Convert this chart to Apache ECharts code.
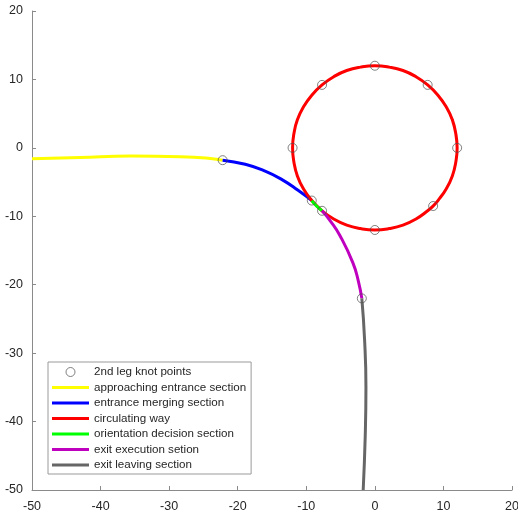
<!DOCTYPE html>
<html>
<head>
<meta charset="utf-8">
<script src="https://cdn.jsdelivr.net/npm/echarts@6/dist/echarts.min.js"></script>
<style>
  html, body { margin: 0; padding: 0; background: #fff; }
  #chart { width: 518px; height: 514px; }
</style>
</head>
<body>
<div id="chart"></div>
<script>
// Roundabout path of the second leg: each section as [x, y] points
const knotPoints = [
  [0, 12], [7.7, 9.2], [12, 0], [8.5, -8.5], [0, -12],
  [-7.7, -9.2], [-9.2, -7.7], [-12, 0], [-7.7, 9.2],
  [-22.2, -1.8], [-1.9, -22]
];
const approachingEntrance = [
  [-50, -1.6], [-43, -1.4], [-35.6, -1.2], [-28.3, -1.3], [-24, -1.55], [-22.2, -1.8]
];
const entranceMerging = [
  [-22.2, -1.8], [-18.9, -2.4], [-16.0, -3.4], [-13.6, -4.6], [-11.2, -6.2], [-9.2, -7.7]
];
const circulatingWay = [
  [12, 0], [11.8, 2.1], [11.3, 4.1], [10.4, 6], [9.2, 7.7], [7.7, 9.2], [6, 10.4],
  [4.1, 11.3], [2.1, 11.8], [0, 12], [-2.1, 11.8], [-4.1, 11.3], [-6, 10.4],
  [-7.7, 9.2], [-9.2, 7.7], [-10.4, 6], [-11.3, 4.1], [-11.8, 2.1], [-12, 0],
  [-11.8, -2.1], [-11.3, -4.1], [-10.4, -6], [-9.2, -7.7], [-7.7, -9.2], [-6, -10.4],
  [-4.1, -11.3], [-2.1, -11.8], [0, -12], [2.1, -11.8], [4.1, -11.3], [6, -10.4],
  [7.7, -9.2], [8.5, -8.5], [9.2, -7.7], [10.4, -6], [11.3, -4.1], [11.8, -2.1],
  [12, 0], [11.8, 2.1], [11.3, 4.1]
];
const orientationDecision = [
  [-9.2, -7.7], [-8.5, -8.5], [-7.7, -9.2]
];
const exitExecution = [
  [-7.7, -9.2], [-6.4, -10.8], [-5.1, -12.8], [-3.2, -16.8], [-2.4, -19.5], [-1.9, -22]
];
const exitLeaving = [
  [-1.9, -22], [-1.5, -28], [-1.3, -35], [-1.4, -42], [-1.7, -50]
];

const xTicks = { min: -50, max: 20, interval: 10 };
const yTicks = { min: -50, max: 20, interval: 10 };

const names = [
  '2nd leg knot points',
  'approaching entrance section',
  'entrance merging section',
  'circulating way',
  'orientation decision section',
  'exit execution setion',
  'exit leaving section'
];

const axisGray = '#8a8a8a';
const textGray = '#262626';
const knotGray = '#505050';
const font = '"Liberation Sans", Arial, sans-serif';
// flat bar used as the legend swatch for the line sections
const lineIcon = 'path://M0,0H38V3H0Z';

function lineSeries(name, data, color) {
  return {
    name: name,
    type: 'line',
    data: data,
    smooth: 0.5,
    symbol: 'none',
    lineStyle: { color: color, width: 3 },
    itemStyle: { color: color },
    z: 2
  };
}

const chart = echarts.init(document.getElementById('chart'), null, { renderer: 'canvas' });
chart.setOption({
  animation: false,
  backgroundColor: '#fff',
  grid: { left: 32, right: 6, top: 11, bottom: 24, containLabel: false, outerBoundsMode: 'none' },
  xAxis: {
    type: 'value',
    min: xTicks.min, max: xTicks.max, interval: xTicks.interval,
    axisLine: { show: true, onZero: false, lineStyle: { color: axisGray, width: 1 } },
    axisTick: { show: true, inside: true, length: 4, lineStyle: { color: axisGray } },
    axisLabel: { color: textGray, fontSize: 12.5, fontFamily: font, margin: 10 },
    splitLine: { show: false }
  },
  yAxis: {
    type: 'value',
    min: yTicks.min, max: yTicks.max, interval: yTicks.interval,
    axisLine: { show: true, onZero: false, lineStyle: { color: axisGray, width: 1 } },
    axisTick: { show: true, inside: true, length: 4, lineStyle: { color: axisGray } },
    axisLabel: { color: textGray, fontSize: 12.5, fontFamily: font, margin: 9 },
    splitLine: { show: false }
  },
  legend: {
    orient: 'vertical',
    left: 48,
    top: 362,
    padding: [4, 5, 3, 4],
    itemWidth: 37,
    itemHeight: 9,
    itemGap: 3.5,
    backgroundColor: '#fff',
    borderColor: '#9a9a9a',
    borderWidth: 1,
    borderRadius: 0,
    textStyle: { color: textGray, fontSize: 11.6, fontFamily: font, lineHeight: 12 },
    data: [
      {
        name: names[0],
        icon: 'circle',
        itemStyle: { color: 'rgba(255,255,255,0)', borderColor: knotGray, borderWidth: 0.9 }
      },
      { name: names[1], icon: lineIcon },
      { name: names[2], icon: lineIcon },
      { name: names[3], icon: lineIcon },
      { name: names[4], icon: lineIcon },
      { name: names[5], icon: lineIcon },
      { name: names[6], icon: lineIcon }
    ]
  },
  series: [
    lineSeries(names[1], approachingEntrance, '#ffff00'),
    lineSeries(names[2], entranceMerging, '#0000ff'),
    lineSeries(names[3], circulatingWay, '#ff0000'),
    lineSeries(names[4], orientationDecision, '#00ff00'),
    lineSeries(names[5], exitExecution, '#bf00bf'),
    lineSeries(names[6], exitLeaving, '#666666'),
    {
      name: names[0],
      type: 'scatter',
      data: knotPoints,
      symbol: 'circle',
      symbolSize: 9,
      itemStyle: { color: 'rgba(255,255,255,0)', borderColor: knotGray, borderWidth: 0.9 },
      z: 5
    }
  ]
});
</script>
</body>
</html>
